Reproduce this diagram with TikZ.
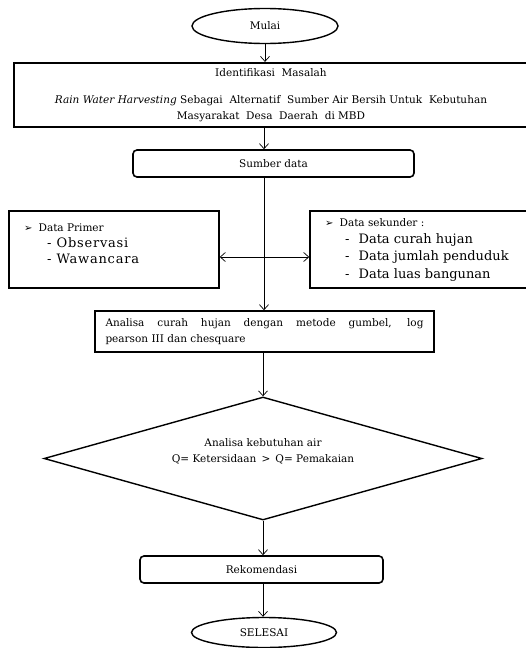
\documentclass[tikz,border=0pt]{standalone}
\usepackage{fontspec}
\setmainfont{DejaVu Serif}
\newfontfamily\symfont{DejaVu Sans}
\usetikzlibrary{shapes.geometric,arrows.meta}

\newcommand{\basefont}{\fontsize{10.5}{16}\selectfont}
\newcommand{\listfont}{\fontsize{13}{15}\selectfont}
\newcommand{\pointer}{{\symfont\fontsize{10}{10}\selectfont ➢}}

\tikzset{
  flowbox/.style={draw, line width=1.6pt, inner sep=0pt},
  roundbox/.style={flowbox, rounded corners=4pt},
  terminal/.style={draw, ellipse, line width=1.4pt, inner sep=0pt},
  barb/.tip={Straight Barb[length=5pt,width=9pt]},
  flowline/.style={-barb, line width=.7pt},
  itemtext/.style={anchor=west, inner sep=0pt},
}

\begin{document}
\begin{tikzpicture}[x=1pt,y=-1pt,font=\basefont]
  \useasboundingbox (0,0) rectangle (526,648);
  \coordinate (spine) at (264,0);
  % Blocks
  \node[terminal, minimum width=146, minimum height=35] (mulai) at (265,26) {Mulai};
  \node[flowbox, line width=2.2pt, minimum width=514, minimum height=64, align=center] (masalah) at (271,95)
    {Identifikasi~~Masalah\\[11pt]\textit{Rain Water Harvesting} Sebagai~~Alternatif~~Sumber Air Bersih Untuk~~Kebutuhan\\Masyarakat~~Desa~~Daerah~~di MBD};
  \node[roundbox, minimum width=281, minimum height=27] (sumber) at (273.5,163.5) {Sumber data};
  \node[flowbox, minimum width=210, minimum height=77] (primer) at (114,249.5) {};
  \node[flowbox, minimum width=218, minimum height=77] (sekunder) at (419,249.5) {};
  \node[flowbox, minimum width=339, minimum height=41, text width=318, align=justify] (analisa) at (264.5,331.5)
    {Analisa curah hujan dengan metode gumbel, log\linebreak pearson III dan chesquare};
  \node[draw, diamond, aspect=3.56, line width=1.4pt, minimum width=438, minimum height=123, inner sep=0pt, align=center] (keputusan) at (263,458.5)
    {Analisa kebutuhan air\\Q= Ketersidaan \,>\, Q= Pemakaian\\\mbox{}};
  \node[roundbox, minimum width=243, minimum height=27] (rekom) at (261.5,569.5) {Rekomendasi};
  \node[terminal, minimum width=145, minimum height=30] (selesai) at (264,632.5) {SELESAI};
  % Data primer
  \node[itemtext] (primer0) at (24,228) {\pointer\hspace{6pt}Data Primer};
  \node[itemtext, font=\listfont] (primer1) at (47,243) {-\hspace{5pt}\addfontfeature{LetterSpace=6}Observasi};
  \node[itemtext, font=\listfont] (primer2) at (47,259) {-\hspace{5pt}\addfontfeature{LetterSpace=6}Wawancara};
  % Data sekunder
  \node[itemtext] (sekunder0) at (325,223) {\pointer\hspace{6pt}Data sekunder :};
  \node[itemtext, font=\listfont] (sekunder1) at (345,240) {-\hspace{9pt}Data curah hujan};
  \node[itemtext, font=\listfont] (sekunder2) at (345,257) {-\hspace{9pt}Data jumlah penduduk};
  \node[itemtext, font=\listfont] (sekunder3) at (345,275) {-\hspace{9pt}Data luas bangunan};
  % Connectors
  \draw[flowline] (mulai.south) -- (mulai.south |- masalah.north);
  \draw[flowline] (spine |- masalah.south) -- (spine |- sumber.north);
  \draw[flowline] (spine |- sumber.south) -- (spine |- analisa.north);
  \draw[flowline, barb-barb] ([yshift=-7.5pt]primer.east) -- ([yshift=-7.5pt]sekunder.west);
  \draw[flowline] (keputusan.north |- analisa.south) -- (keputusan.north);
  \draw[flowline] (keputusan.south) -- (keputusan.south |- rekom.north);
  \draw[flowline] (keputusan.south |- rekom.south) -- (keputusan.south |- selesai.north);
\end{tikzpicture}
\end{document}
